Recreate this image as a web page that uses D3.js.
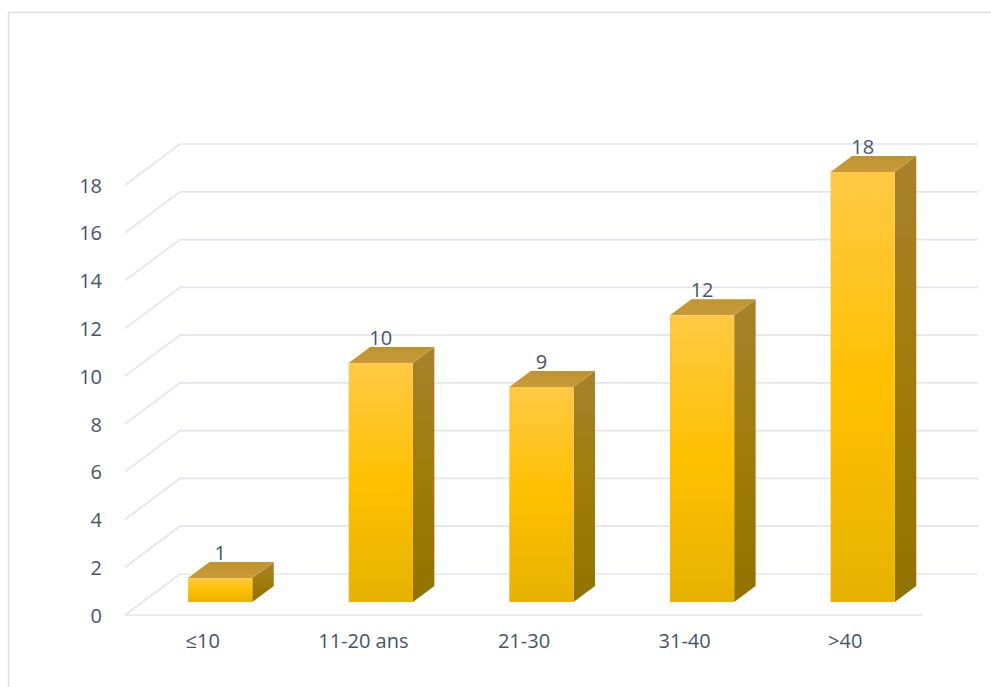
<!DOCTYPE html>
<html>
<head>
<meta charset="utf-8">
<script src="https://cdn.jsdelivr.net/npm/d3@7"></script>
<style>
  html, body { margin: 0; padding: 0; background: #ffffff; }
  svg { display: block; }
</style>
</head>
<body>
<svg id="chart" width="991" height="687"></svg>
<script>
// Age groups and counts
const categories = ["≤10", "11-20 ans", "21-30", "31-40", ">40"];
const values = [1, 10, 9, 12, 18];
const yTicks = [0, 2, 4, 6, 8, 10, 12, 14, 16, 18];

const W = 991, H = 687;
const svg = d3.select("#chart");
const textColor = "#44546A";
const gridColor = "#E2E6EC";
const fontFamily = "'Open Sans', 'Noto Sans', sans-serif";
const fontSize = 20;

// Front plane of the 3D box and the oblique depth vector
const front = { left: 125, right: 923, bottom: 615, top: 185 };
const depth = { dx: 55, dy: -41 };

const x = d3.scaleBand()
  .domain(categories)
  .range([front.left, front.right])
  .paddingInner(0.6)
  .paddingOuter(0.284);

const y = d3.scaleLinear()
  .domain([0, 18])
  .range([front.bottom, front.top]);

// Depth fraction -> offset
const off = t => ({ dx: depth.dx * t, dy: depth.dy * t });

// Outer frame
svg.append("rect")
  .attr("x", 8.5).attr("y", 12.5)
  .attr("width", W + 20).attr("height", H + 20)
  .attr("fill", "none")
  .attr("stroke", "#DADFE6")
  .attr("stroke-width", 1.5);

// Gradients for bar faces
const defs = svg.append("defs");
function grad(id, stops) {
  const g = defs.append("linearGradient").attr("id", id)
    .attr("x1", 0).attr("y1", 0).attr("x2", 0).attr("y2", 1);
  stops.forEach(([o, c]) => g.append("stop").attr("offset", o).attr("stop-color", c));
}
grad("gFront", [[0, "#FFC945"], [0.5, "#FFC000"], [1, "#E6B200"]]);
grad("gSide", [[0, "#A8812C"], [0.5, "#A07C0A"], [1, "#927200"]]);
grad("gTop", [[0, "#C09330"], [1, "#C69B38"]]);

// Gridlines: side wall diagonals + back wall horizontals
const grid = svg.append("g")
  .attr("stroke", gridColor)
  .attr("stroke-width", 1.7)
  .attr("fill", "none");
const back = off(1);
yTicks.forEach(v => {
  const yf = y(v);
  grid.append("path")
    .attr("d", `M${front.left},${yf} L${front.left + back.dx},${yf + back.dy} L${front.right + back.dx},${yf + back.dy}`);
});
// Floor front edge
grid.append("line")
  .attr("x1", front.left).attr("y1", y(0))
  .attr("x2", front.right).attr("y2", y(0));

// Bars (centered in depth)
const t0 = 0.317, t1 = 0.707;
const o0 = off(t0), o1 = off(t1);
const bars = svg.append("g");
categories.forEach((c, i) => {
  const v = values[i];
  const xl = x(c) + o0.dx, xr = x(c) + x.bandwidth() + o0.dx;
  const yb = y(0) + o0.dy, yt = y(v) + o0.dy;
  const ddx = o1.dx - o0.dx, ddy = o1.dy - o0.dy;
  const g = bars.append("g");
  // side face
  g.append("path")
    .attr("d", `M${xr},${yt} L${xr + ddx},${yt + ddy} L${xr + ddx},${yb + ddy} L${xr},${yb} Z`)
    .attr("fill", "url(#gSide)");
  // top face
  g.append("path")
    .attr("d", `M${xl},${yt} L${xl + ddx},${yt + ddy} L${xr + ddx},${yt + ddy} L${xr},${yt} Z`)
    .attr("fill", "url(#gTop)");
  // front face
  g.append("rect")
    .attr("x", xl).attr("y", yt)
    .attr("width", xr - xl).attr("height", yb - yt)
    .attr("fill", "url(#gFront)");
  // value label
  g.append("text")
    .attr("x", (xl + xr) / 2)
    .attr("y", yt + ddy - 2)
    .attr("text-anchor", "middle")
    .attr("font-family", fontFamily)
    .attr("font-size", fontSize)
    .attr("fill", textColor)
    .text(v);
});

// Y axis labels
const yAxis = svg.append("g")
  .attr("transform", `translate(${front.left - 23},0)`)
  .call(d3.axisLeft(y).tickValues(yTicks).tickSize(0).tickPadding(0));
yAxis.select(".domain").remove();
yAxis.selectAll("text")
  .attr("font-family", fontFamily)
  .attr("font-size", fontSize)
  .attr("fill", textColor)
  .attr("dy", "0.36em");

// X axis labels
const xAxis = svg.append("g")
  .attr("transform", `translate(0,${y(0) + 19})`)
  .call(d3.axisBottom(x).tickSize(0).tickPadding(0));
xAxis.select(".domain").remove();
xAxis.selectAll("text")
  .attr("font-family", fontFamily)
  .attr("font-size", fontSize)
  .attr("fill", textColor)
  .attr("dy", "0.71em");
</script>
</body>
</html>
